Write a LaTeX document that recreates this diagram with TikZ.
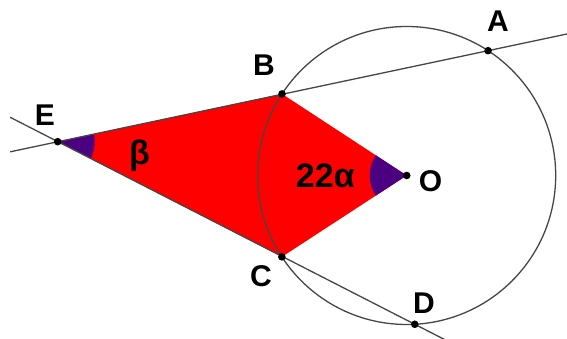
\documentclass[tikz,border=0pt]{standalone}
\usepackage{fontspec}
\setmainfont{Liberation Sans}
\usepackage{xcolor}
\usetikzlibrary{calc}

\definecolor{angfill}{RGB}{75,0,130}
\definecolor{linegray}{RGB}{70,70,70}

\begin{document}
\begin{tikzpicture}[
  x=1pt, y=1pt,
  font=\fontsize{30}{30}\selectfont\bfseries,
  geo/.style={draw=linegray, line width=1.3pt},
  dot/.style={fill=black},
  lab/.style={inner sep=0pt, anchor=center},
  anglab/.style={lab, font=\fontsize{34}{34}\selectfont\bfseries}
]
  \useasboundingbox (0,0) rectangle (567,339);

  % points
  \coordinate (O) at (406.7,163.5);
  \coordinate (B) at ($(O)+(146.8:149)$);
  \coordinate (C) at ($(O)+(213.1:149)$);
  \coordinate (A) at ($(O)+(56.9:149)$);
  \coordinate (D) at ($(O)+(-86.9:149)$);
  \coordinate (E) at (57.7,197.3);

  % shaded region and angles
  \fill[red] (E) -- (B) -- (O) -- (C) -- cycle;
  \fill[angfill] (E) -- ++(-27.1:37) arc[start angle=-27.1, end angle=11.9, radius=37] -- cycle;
  \fill[angfill] (O) -- ++(146.8:37) arc[start angle=146.8, end angle=213.1, radius=37] -- cycle;

  % circle and secants
  \draw[geo] (O) circle (149);
  \draw[geo] ($(E)!-0.212!(B)$) -- ($(E)!1.19!(A)$);
  \draw[geo] ($(E)!-0.212!(C)$) -- ($(E)!1.1!(D)$);

  \foreach \p in {A,B,C,D,E,O} \fill[dot] (\p) circle (3.8);

  % labels
  \node[lab] (lA) at (498,317.5) {A};
  \node[lab] (lB) at (264,273.5) {B};
  \node[lab] (lC) at (261,62.5) {C};
  \node[lab] (lD) at (424,36) {D};
  \node[lab] (lE) at (45,224) {E};
  \node[lab] (lO) at (430.5,157.5) {O};
  \node[anglab] (beta) at (139.5,183.5) {β};
  \node[anglab] (alpha) at (325.3,163.2) {22α};
\end{tikzpicture}
\end{document}
